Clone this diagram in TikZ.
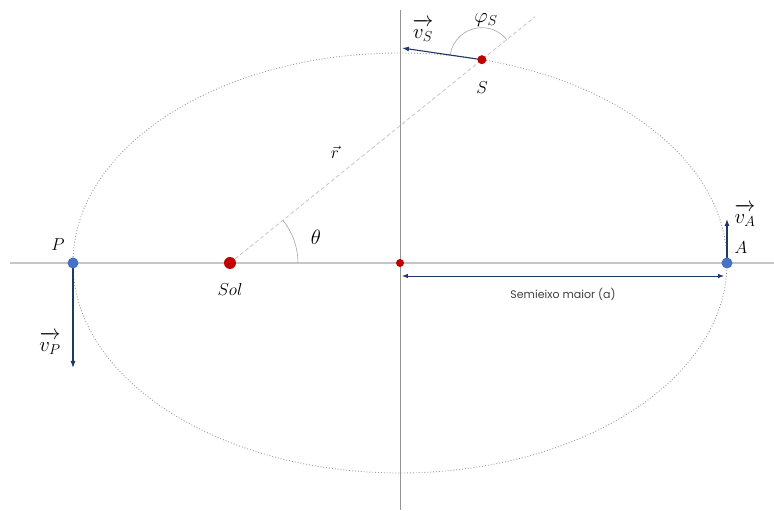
\documentclass[tikz,border=0pt]{standalone}
\usepackage{fontspec}
\newfontfamily\rotulofont{Poppins}
\usetikzlibrary{calc,arrows.meta}
\definecolor{vermelho}{HTML}{C00000}
\definecolor{azul}{HTML}{4472C4}
\definecolor{marinho}{HTML}{1F3864}
\newcommand{\vetvel}[1]{\overrightarrow{v_{#1}\vphantom{t}}}
\tikzset{
  planeta/.style={circle,fill=azul,inner sep=0pt,minimum size=11pt},
  ponto/.style={circle,fill=vermelho,inner sep=0pt,minimum size=#1},
  vel/.style={-{Latex[length=7pt,width=5pt]},marinho,line width=1.1pt},
  rotulo/.style={font=\fontsize{17.28}{20}\selectfont},
  grego/.style={font=\fontsize{20.74}{24}\selectfont},
  angulo/.style={gray!70,line width=0.6pt}
}
\begin{document}
\begin{tikzpicture}[x=1pt,y=1pt]
  \useasboundingbox (-400,-248) rectangle (374,263);
  \coordinate (O) at (0,0);
  \coordinate (P) at (-327,0);
  \coordinate (A) at (327,0);
  \coordinate (sol) at (-170,0);
  \coordinate (S) at ({327*cos(75.5)},{210*sin(75.5)});
  % eixos e orbita
  \draw[gray!45,line width=1.6pt] (-390,0) -- (374,0);
  \draw[gray!85,line width=0.8pt] (0,253) -- (0,-247);
  \draw[gray!80,dotted,line width=0.9pt] (O) ellipse [x radius=327,y radius=210];
  \draw[gray!45,dashed,dash pattern=on 4pt off 2.5pt,line width=0.8pt] (sol) -- ($(sol)!1.21!(S)$);
  \draw[angulo] ($(sol)+(68,0)$) arc[start angle=0,end angle=38.9,radius=68];
  \draw[angulo] ($(S)+(171.5:32)$) arc[start angle=171.5,end angle=38.9,radius=32];
  % velocidades
  \coordinate (vP) at (-327,-105);
  \coordinate (vA) at (327,44);
  \coordinate (vS) at (2,215);
  \draw[vel] (P) -- (vP);
  \draw[vel] (A) -- (vA);
  \draw[vel] (S) -- (vS);
  \draw[{Latex[length=6pt,width=4.5pt]}-{Latex[length=6pt,width=4.5pt]},marinho,line width=0.8pt] (2,-13) -- (324,-13);
  \node[planeta] (Pdot) at (P) {};
  \node[planeta] (Adot) at (A) {};
  \node[ponto=12pt] (soldot) at (sol) {};
  \node[ponto=8pt] (Odot) at (O) {};
  \node[ponto=9pt] (Sdot) at (S) {};
  % rotulos
  \node[rotulo] (lP) at (-342,18) {$P$};
  \node[rotulo] (lA) at (341,15) {$A$};
  \node[rotulo] (lsol) at (-170,-27) {$Sol$};
  \node[rotulo] (lS) at (82,175) {$S$};
  \node[rotulo] (lr) at (-65,111) {$\vec{r}$};
  \node[grego] (ltheta) at (-84,26) {$\theta$};
  \node[grego] (lphi) at (86,243) {$\varphi_S$};
  \node[grego] (lvS) at (23,233) {$\vetvel{S}$};
  \node[grego] (lvA) at (345,48) {$\vetvel{A}$};
  \node[grego] (lvP) at (-350,-80) {$\vetvel{P}$};
  \node[font=\rotulofont\fontsize{11}{13}\selectfont,text=black!75] (la) at (163,-31) {Semieixo maior (a)};
\end{tikzpicture}
\end{document}
